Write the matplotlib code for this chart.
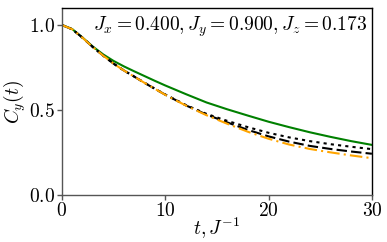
import matplotlib
matplotlib.use("Agg")
import matplotlib.pyplot as plt

plt.rcParams['mathtext.fontset'] = 'cm'
plt.rcParams['font.family'] = 'serif'
plt.rcParams['font.serif'] = ['DejaVu Serif']

t = [0, 1, 2, 3, 4, 5, 6, 7, 8, 9, 10, 12, 14, 16, 18, 20, 22, 24, 26, 28, 30]
green = [1.0, 0.976, 0.926, 0.873, 0.827, 0.789, 0.757, 0.728, 0.700, 0.672, 0.645, 0.594, 0.545, 0.505, 0.468, 0.432, 0.400, 0.370, 0.343, 0.318, 0.296]
dotted = [1.0, 0.975, 0.925, 0.870, 0.820, 0.773, 0.733, 0.697, 0.661, 0.626, 0.592, 0.530, 0.478, 0.437, 0.400, 0.367, 0.340, 0.318, 0.300, 0.285, 0.271]
dashed = [1.0, 0.975, 0.925, 0.870, 0.820, 0.773, 0.733, 0.697, 0.660, 0.625, 0.591, 0.528, 0.474, 0.428, 0.384, 0.346, 0.315, 0.290, 0.272, 0.257, 0.244]
orange = [1.0, 0.975, 0.925, 0.870, 0.820, 0.773, 0.733, 0.697, 0.660, 0.625, 0.590, 0.527, 0.470, 0.420, 0.373, 0.332, 0.298, 0.272, 0.252, 0.234, 0.218]

fig = plt.figure(figsize=(3.87, 2.42), dpi=100)
ax = fig.add_axes([0.160, 0.193, 0.801, 0.774])

ax.plot(t, green, color='green', lw=1.5, ls='-')
ax.plot(t, dotted, color='black', lw=1.5, ls=(0, (1.5, 2.0)))
ax.plot(t, dashed, color='black', lw=1.5, ls=(0, (5, 2)))
ax.plot(t, orange, color='orange', lw=1.5, ls=(0, (6, 2, 1, 2)))

ax.set_xlim(0, 30)
ax.set_ylim(0, 1.1)
ax.set_xticks([0, 10, 20, 30])
ax.set_yticks([0.0, 0.5, 1.0])
ax.set_xticklabels(['$0$', '$10$', '$20$', '$30$'])
ax.set_yticklabels(['$0.0$', '$0.5$', '$1.0$'])
ax.tick_params(labelsize=14, direction='out', length=3.5, width=1, color='#555555', pad=1.5)
for s in ax.spines.values():
    s.set_color('#555555')
    s.set_linewidth(1.0)
ax.spines['top'].set_color('black')
ax.spines['right'].set_color('black')

ax.set_xlabel('$t, J^{-1}$', fontsize=14, labelpad=-3)
ax.set_ylabel('$C_y(t)$', fontsize=14, labelpad=1)
ax.text(0.984, 0.965, '$J_x = 0.400, J_y = 0.900, J_z = 0.173$', transform=ax.transAxes,
        ha='right', va='top', fontsize=14)

fig.savefig('out.png', dpi=100)
